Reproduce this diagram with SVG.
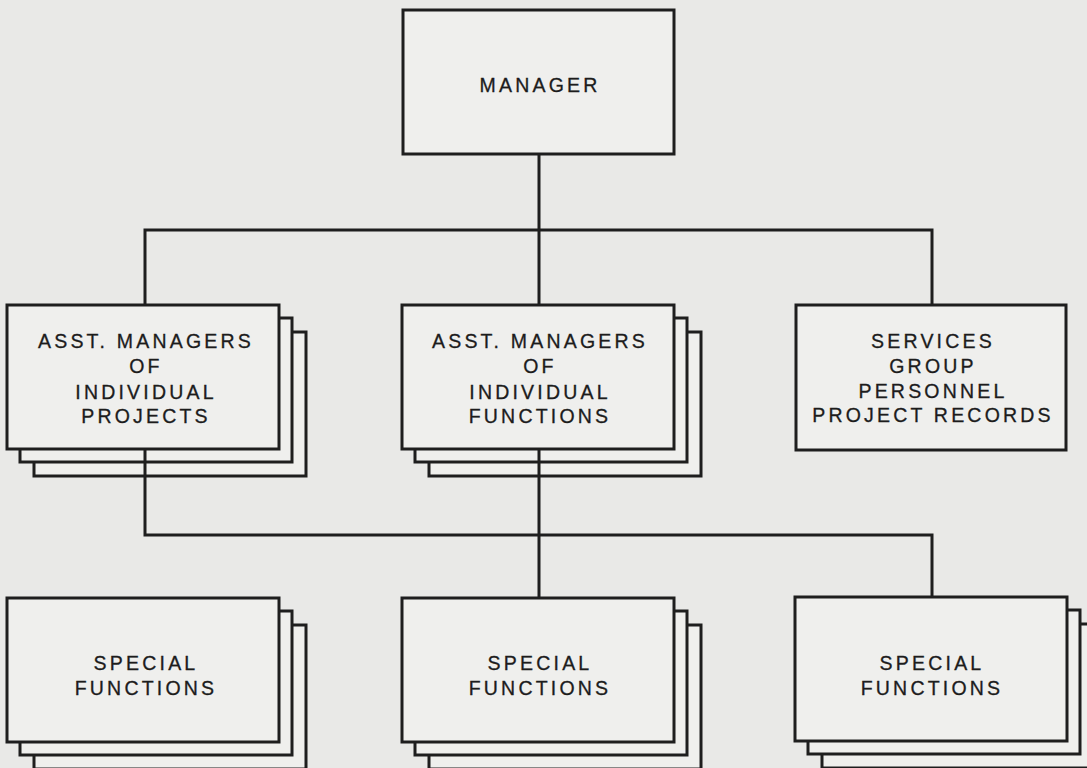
<svg xmlns="http://www.w3.org/2000/svg" width="1087" height="768" viewBox="0 0 1087 768">
<style>
.bx{fill:#efefed;stroke:#1e1e1e;stroke-width:3}
.ln{fill:none;stroke:#1e1e1e;stroke-width:3}
.t{font-family:"Liberation Sans",Arial,sans-serif;font-size:19.5px;letter-spacing:3.2px;fill:#1c1c1c;stroke:#1c1c1c;stroke-width:0.3;text-anchor:middle}
</style>
<rect width="1087" height="768" fill="#e9e9e7"/>
<defs>
<g id="stack">
<rect class="bx" x="27" y="27" width="272" height="144"/>
<rect class="bx" x="13" y="13" width="272" height="144"/>
<rect class="bx" x="0" y="0" width="272" height="144"/>
</g>
</defs>
<g id="manager">
<rect class="bx" x="403" y="10" width="271" height="144"/>
<text class="t" x="540" y="92">MANAGER</text>
</g>
<g id="asst-projects">
<use href="#stack" x="7" y="305"/>
<text class="t" x="146" y="348">ASST. MANAGERS</text>
<text class="t" x="146" y="373">OF</text>
<text class="t" x="146" y="399">INDIVIDUAL</text>
<text class="t" x="146" y="423">PROJECTS</text>
</g>
<g id="asst-functions">
<use href="#stack" x="402" y="305"/>
<text class="t" x="540" y="348">ASST. MANAGERS</text>
<text class="t" x="540" y="373">OF</text>
<text class="t" x="540" y="399">INDIVIDUAL</text>
<text class="t" x="540" y="423">FUNCTIONS</text>
</g>
<g id="services">
<rect class="bx" x="796" y="305" width="270" height="145"/>
<text class="t" x="933" y="348">SERVICES</text>
<text class="t" x="933" y="373">GROUP</text>
<text class="t" x="933" y="398">PERSONNEL</text>
<text class="t" x="933" y="422">PROJECT  RECORDS</text>
</g>
<g id="special-1">
<use href="#stack" x="7" y="598"/>
<text class="t" x="146" y="670">SPECIAL</text>
<text class="t" x="146" y="695">FUNCTIONS</text>
</g>
<g id="special-2">
<use href="#stack" x="402" y="598"/>
<text class="t" x="540" y="670">SPECIAL</text>
<text class="t" x="540" y="695">FUNCTIONS</text>
</g>
<g id="special-3">
<use href="#stack" x="795" y="597"/>
<text class="t" x="932" y="670">SPECIAL</text>
<text class="t" x="932" y="695">FUNCTIONS</text>
</g>
<g id="connectors">
<path class="ln" d="M539 154V305M145 305V230H932V305"/>
<path class="ln" d="M145 449V535H932V597M539 449V598"/>
</g>
</svg>
